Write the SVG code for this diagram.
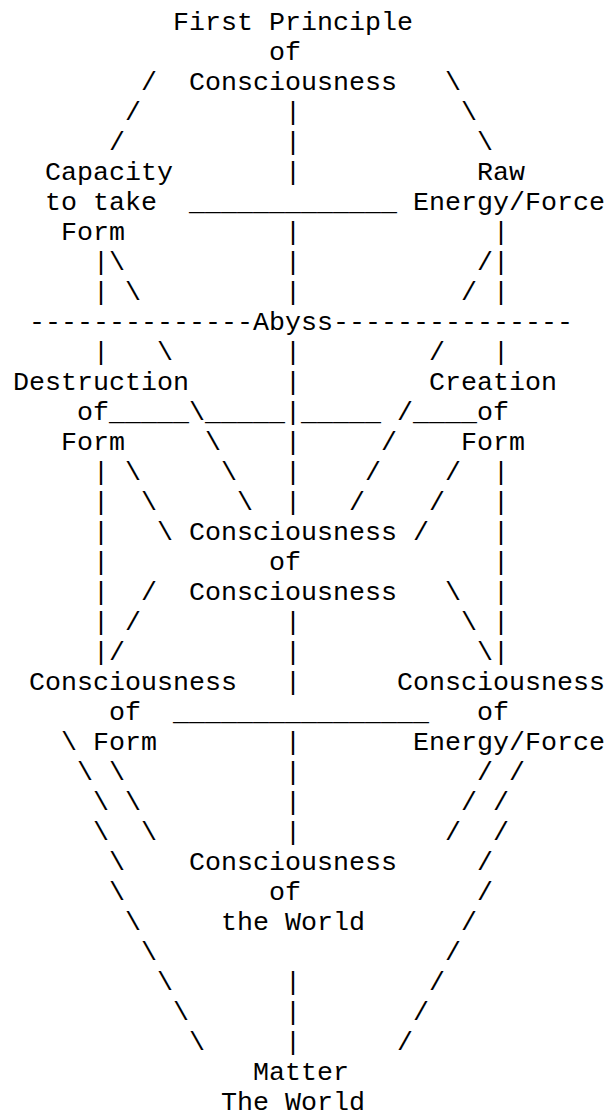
<svg xmlns="http://www.w3.org/2000/svg" width="605" height="1119" viewBox="0 0 605 1119">
<style>
text{font-family:"Courier New","Liberation Mono",monospace;font-size:26.667px;fill:#000;white-space:pre}
</style>
<rect width="605" height="1119" fill="#fff"/>
<g id="connectors">
<text x="141" y="90">/</text><text x="445" y="90">\</text>
<text x="125" y="120">/</text><text x="285" y="120">|</text><text x="461" y="120">\</text>
<text x="109" y="150">/</text><text x="285" y="150">|</text><text x="477" y="150">\</text>
<text x="285" y="180">|</text>
<text x="189" y="210">_____________</text>
<text x="285" y="240">|</text><text x="493" y="240">|</text>
<text x="93" y="270">|\</text><text x="285" y="270">|</text><text x="477" y="270">/|</text>
<text x="93" y="300">|</text><text x="125" y="300">\</text><text x="285" y="300">|</text><text x="461" y="300">/</text><text x="493" y="300">|</text>
<text x="29" y="330">--------------</text><text x="333" y="330">---------------</text>
<text x="93" y="360">|</text><text x="157" y="360">\</text><text x="285" y="360">|</text><text x="429" y="360">/</text><text x="493" y="360">|</text>
<text x="285" y="390">|</text>
<text x="109" y="420">_____\_____|_____</text><text x="397" y="420">/____</text>
<text x="205" y="450">\</text><text x="285" y="450">|</text><text x="381" y="450">/</text>
<text x="93" y="480">|</text><text x="125" y="480">\</text><text x="221" y="480">\</text><text x="285" y="480">|</text><text x="365" y="480">/</text><text x="445" y="480">/</text><text x="493" y="480">|</text>
<text x="93" y="510">|</text><text x="141" y="510">\</text><text x="237" y="510">\</text><text x="285" y="510">|</text><text x="349" y="510">/</text><text x="429" y="510">/</text><text x="493" y="510">|</text>
<text x="93" y="540">|</text><text x="157" y="540">\</text><text x="413" y="540">/</text><text x="493" y="540">|</text>
<text x="93" y="570">|</text><text x="493" y="570">|</text>
<text x="93" y="600">|</text><text x="141" y="600">/</text><text x="445" y="600">\</text><text x="493" y="600">|</text>
<text x="93" y="630">|</text><text x="125" y="630">/</text><text x="285" y="630">|</text><text x="461" y="630">\</text><text x="493" y="630">|</text>
<text x="93" y="660">|/</text><text x="285" y="660">|</text><text x="477" y="660">\|</text>
<text x="285" y="690">|</text>
<text x="173" y="720">________________</text>
<text x="61" y="750">\</text><text x="285" y="750">|</text>
<text x="77" y="780">\</text><text x="109" y="780">\</text><text x="285" y="780">|</text><text x="477" y="780">/</text><text x="509" y="780">/</text>
<text x="93" y="810">\</text><text x="125" y="810">\</text><text x="285" y="810">|</text><text x="461" y="810">/</text><text x="493" y="810">/</text>
<text x="93" y="840">\</text><text x="141" y="840">\</text><text x="285" y="840">|</text><text x="445" y="840">/</text><text x="493" y="840">/</text>
<text x="109" y="870">\</text><text x="477" y="870">/</text>
<text x="109" y="900">\</text><text x="477" y="900">/</text>
<text x="125" y="930">\</text><text x="461" y="930">/</text>
<text x="141" y="960">\</text><text x="445" y="960">/</text>
<text x="157" y="990">\</text><text x="285" y="990">|</text><text x="429" y="990">/</text>
<text x="173" y="1020">\</text><text x="285" y="1020">|</text><text x="413" y="1020">/</text>
<text x="189" y="1050">\</text><text x="285" y="1050">|</text><text x="397" y="1050">/</text>
</g>
<g id="first-principle">
<text x="173" y="30">First Principle</text>
<text x="269" y="60">of</text>
<text x="189" y="90">Consciousness</text>
</g>
<g id="capacity">
<text x="45" y="180">Capacity</text>
<text x="45" y="210">to take</text>
<text x="61" y="240">Form</text>
</g>
<g id="raw-energy">
<text x="477" y="180">Raw</text>
<text x="413" y="210">Energy/Force</text>
</g>
<g id="abyss">
<text x="253" y="330">Abyss</text>
</g>
<g id="destruction">
<text x="13" y="390">Destruction</text>
<text x="77" y="420">of</text>
<text x="61" y="450">Form</text>
</g>
<g id="creation">
<text x="429" y="390">Creation</text>
<text x="477" y="420">of</text>
<text x="461" y="450">Form</text>
</g>
<g id="consciousness-of-consciousness">
<text x="189" y="540">Consciousness</text>
<text x="269" y="570">of</text>
<text x="189" y="600">Consciousness</text>
</g>
<g id="consciousness-of-form">
<text x="29" y="690">Consciousness</text>
<text x="109" y="720">of</text>
<text x="93" y="750">Form</text>
</g>
<g id="consciousness-of-energy">
<text x="397" y="690">Consciousness</text>
<text x="477" y="720">of</text>
<text x="413" y="750">Energy/Force</text>
</g>
<g id="consciousness-of-world">
<text x="189" y="870">Consciousness</text>
<text x="269" y="900">of</text>
<text x="221" y="930">the World</text>
</g>
<g id="matter">
<text x="253" y="1080">Matter</text>
<text x="221" y="1110">The World</text>
</g>
</svg>
